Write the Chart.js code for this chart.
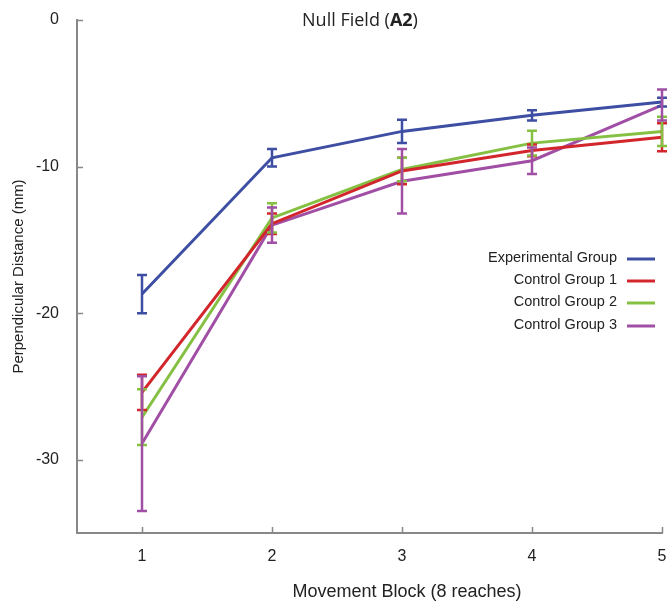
<!DOCTYPE html>
<html>
<head>
<meta charset="utf-8">
<script src="https://cdn.jsdelivr.net/npm/chart.js@4"></script>
<style>
html,body{margin:0;padding:0;background:#fff;}
#wrap{width:667px;height:603px;}
</style>
</head>
<body>
<div id="wrap"><canvas id="c" width="667" height="603"></canvas></div>
<script>
const categories = [1, 2, 3, 4, 5];
const xTicks = [1, 2, 3, 4, 5];
const yTicks = [0, -10, -20, -30];
const seriesNames = ["Experimental Group", "Control Group 1", "Control Group 2", "Control Group 3"];
const experimental = [-18.7, -9.4, -7.6, -6.5, -5.6];
const experimentalErr = [1.3, 0.6, 0.8, 0.35, 0.3];
const control1 = [-25.4, -13.9, -10.3, -8.9, -8.0];
const control1Err = [1.2, 0.7, 0.9, 0.4, 0.95];
const control2 = [-27.1, -13.5, -10.2, -8.4, -7.6];
const control2Err = [1.9, 1.0, 0.8, 0.85, 1.0];
const control3 = [-28.9, -14.0, -11.0, -9.6, -5.8];
const control3Err = [4.6, 1.2, 2.2, 0.9, 1.05];

const colors = ["#3d4ea3", "#d2262c", "#85c043", "#a04fa5"];
const values = [experimental, control1, control2, control3];
const errors = [experimentalErr, control1Err, control2Err, control3Err];

const FONT = "'Liberation Sans', Arial, sans-serif";
const TITLE_FONT = "'Open Sans', 'Noto Sans', sans-serif";

const datasets = values.map((v, i) => ({
  label: seriesNames[i],
  data: categories.map((c, j) => ({x: c, y: v[j]})),
  errors: errors[i],
  borderColor: colors[i],
  backgroundColor: colors[i],
  borderWidth: 3,
  pointRadius: 0,
  tension: 0,
  clip: false
}));

const errorBars = {
  id: 'errorBars',
  afterDatasetsDraw(chart) {
    const ctx = chart.ctx, xs = chart.scales.x, ys = chart.scales.y;
    ctx.save();
    chart.data.datasets.forEach(ds => {
      ctx.strokeStyle = ds.borderColor;
      ctx.lineWidth = 2.5;
      ds.data.forEach((p, j) => {
        const e = ds.errors[j];
        const px = xs.getPixelForValue(p.x);
        const yt = ys.getPixelForValue(p.y + e);
        const yb = ys.getPixelForValue(p.y - e);
        ctx.beginPath();
        ctx.moveTo(px, yt); ctx.lineTo(px, yb);
        ctx.moveTo(px - 5, yt); ctx.lineTo(px + 5, yt);
        ctx.moveTo(px - 5, yb); ctx.lineTo(px + 5, yb);
        ctx.stroke();
      });
    });
    ctx.restore();
  }
};

const decor = {
  id: 'decor',
  afterDraw(chart) {
    const ctx = chart.ctx, xs = chart.scales.x, ys = chart.scales.y, a = chart.chartArea;
    ctx.save();
    // inward tick marks
    ctx.strokeStyle = '#888';
    ctx.lineWidth = 1.5;
    ctx.beginPath();
    yTicks.forEach(v => { const y = Math.round(ys.getPixelForValue(v)) + 0.5; ctx.moveTo(a.left, y); ctx.lineTo(a.left + 6, y); });
    xTicks.forEach(v => { const x = Math.round(xs.getPixelForValue(v)) + 0.5; ctx.moveTo(x, a.bottom); ctx.lineTo(x, a.bottom - 6); });
    ctx.stroke();
    // title
    ctx.fillStyle = '#222';
    ctx.textBaseline = 'alphabetic';
    const parts = [["Null Field (", "normal"], ["A2", "bold"], [")", "normal"]];
    let total = 0;
    parts.forEach(p => { ctx.font = p[1] + " 18px " + TITLE_FONT; total += ctx.measureText(p[0]).width; });
    let x = 360 - total / 2;
    ctx.textAlign = 'left';
    parts.forEach(p => { ctx.font = p[1] + " 18px " + TITLE_FONT; ctx.fillText(p[0], x, 26); x += ctx.measureText(p[0]).width; });
    // axis titles
    ctx.font = "18px " + FONT;
    ctx.textAlign = 'center';
    ctx.fillText("Movement Block (8 reaches)", 407, 597);
    ctx.textBaseline = 'middle';
    ctx.font = "15px " + FONT;
    ctx.save();
    ctx.translate(19, (a.top + a.bottom) / 2);
    ctx.rotate(-Math.PI / 2);
    ctx.fillText("Perpendicular Distance (mm)", 0, 0);
    ctx.restore();
    // legend
    const rows = [258, 280, 302, 325];
    ctx.font = "14.5px " + FONT;
    ctx.textAlign = 'right';
    seriesNames.forEach((n, i) => {
      ctx.fillStyle = '#222';
      ctx.fillText(n, 617, rows[i]);
      ctx.strokeStyle = colors[i];
      ctx.lineWidth = 3;
      ctx.beginPath(); ctx.moveTo(627, rows[i] + 1); ctx.lineTo(655, rows[i] + 1); ctx.stroke();
    });
    ctx.restore();
  }
};

new Chart(document.getElementById('c'), {
  type: 'line',
  data: { datasets },
  options: {
    responsive: false,
    animation: false,
    devicePixelRatio: 1,
    layout: { padding: { top: 20, right: 5, left: 0, bottom: 0 } },
    plugins: { legend: { display: false }, tooltip: { enabled: false }, title: { display: false } },
    scales: {
      x: {
        type: 'linear', min: 0.5, max: 5,
        afterBuildTicks: s => { s.ticks = xTicks.map(v => ({value: v})); },
        afterFit: s => { s.height = 70; s.paddingLeft = 0; s.paddingRight = 0; },
        grid: { display: false, drawTicks: false },
        border: { display: true, color: '#888', width: 2 },
        ticks: { padding: 14, color: '#222', font: { family: FONT, size: 16 }, maxRotation: 0 }
      },
      y: {
        type: 'linear', min: -35, max: 0,
        afterBuildTicks: s => { s.ticks = yTicks.map(v => ({value: v})); },
        afterFit: s => { s.width = 77; s.paddingTop = 0; s.paddingBottom = 0; },
        grid: { display: false, drawTicks: false },
        border: { display: true, color: '#888', width: 2 },
        ticks: { padding: 18, color: '#222', font: { family: FONT, size: 16 } }
      }
    }
  },
  plugins: [errorBars, decor]
});
</script>
</body>
</html>
